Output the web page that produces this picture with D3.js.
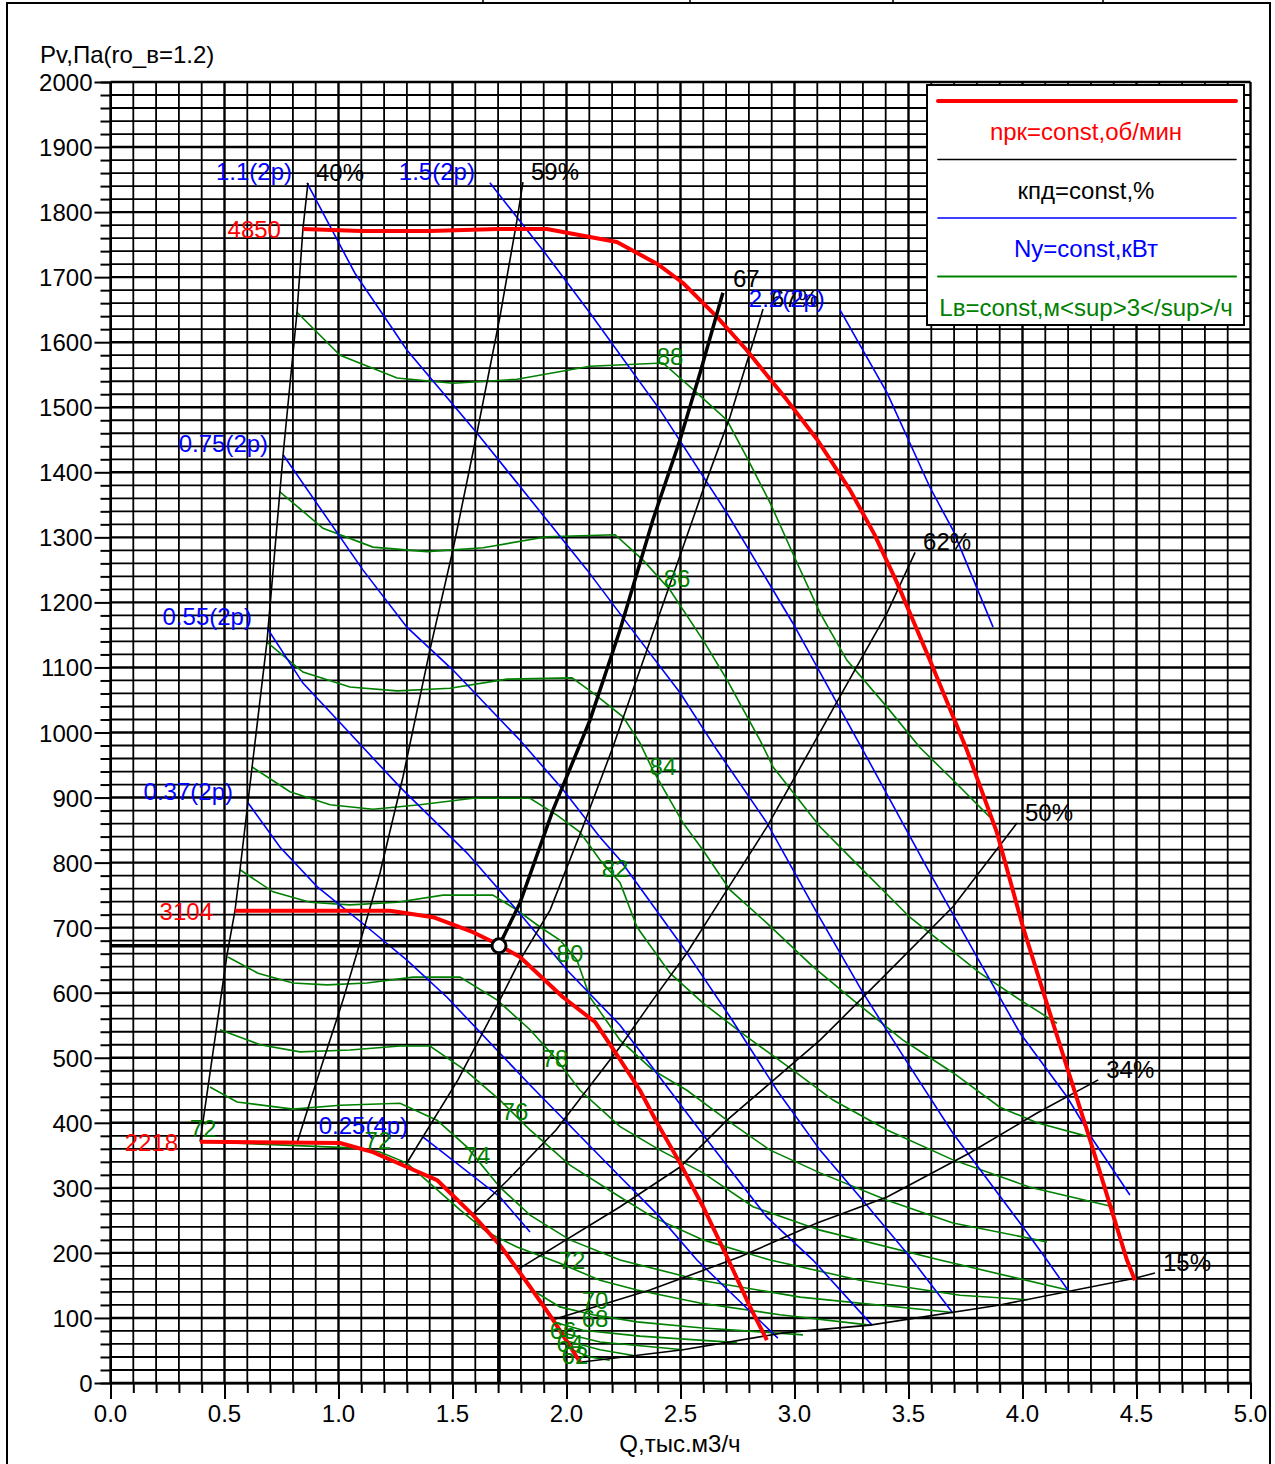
<!DOCTYPE html>
<html>
<head>
<meta charset="utf-8">
<script src="https://cdn.jsdelivr.net/npm/d3@7"></script>
<style>
  body { margin: 0; background: #fff; }
  text { font-family: "Liberation Sans", Arial, sans-serif; }
</style>
</head>
<body>
<svg id="chart" width="1275" height="1464"></svg>
<script>
// ---- axes ----
const qTicks = [0, 0.5, 1, 1.5, 2, 2.5, 3, 3.5, 4, 4.5, 5];
const pTicks = [0, 100, 200, 300, 400, 500, 600, 700, 800, 900, 1000, 1100, 1200, 1300, 1400, 1500, 1600, 1700, 1800, 1900, 2000];
const qLabel = "Q,тыс.м3/ч";
const pLabel = "Pv,Па(ro_в=1.2)";

// ---- fan speed curves, rpm (Q thousand m3/h, Pv Pa) ----
const speedNames = ["4850", "3104", "2218"];
const speed4850 = [[0.844,1774],[1.10,1771],[1.40,1771],[1.70,1774],[1.914,1774],[2.221,1754],[2.40,1720],[2.511,1691],[2.66,1639],[2.79,1588],[2.967,1511],[3.10,1450],[3.243,1373],[3.35,1305],[3.45,1230],[3.594,1111],[3.756,973],[3.888,846],[4.002,701],[4.134,553],[4.296,374],[4.458,189],[4.493,158]];
const speed3104 = [[0.546,726],[1.226,726],[1.415,716],[1.590,693],[1.678,678],[1.796,655],[1.985,593],[2.125,555],[2.235,497],[2.322,450],[2.397,400],[2.498,338],[2.599,271],[2.704,194],[2.805,117],[2.879,66]];
const speed2218 = [[0.393,371],[1.007,369],[1.151,355],[1.300,332],[1.432,312],[1.590,258],[1.708,212],[1.840,148],[1.941,97],[1.998,66],[2.059,32]];

// ---- efficiency lines, % ----
const effNames = ["40%", "59%", "67%", "62%", "50%", "34%", "15%"];
const eff40 = [[0.393,371],[0.511,658],[0.546,726],[0.568,789],[0.621,947],[0.686,1139],[0.757,1427],[0.818,1646],[0.844,1774],[0.866,1845]];
const eff59 = [[0.818,369],[0.906,466],[1.020,589],[1.081,661],[1.182,784],[1.283,932],[1.401,1127],[1.502,1281],[1.607,1460],[1.708,1639],[1.783,1788],[1.809,1846]];
const eff67 = [[1.289,332],[1.524,466],[1.708,589],[1.796,650],[1.928,727],[2.072,855],[2.204,978],[2.322,1096],[2.599,1373],[2.717,1485],[2.835,1619],[2.862,1651]];
const eff62 = [[1.585,258],[1.743,312],[1.954,389],[2.235,517],[2.379,589],[2.528,661],[2.704,758],[2.879,855],[3.068,973],[3.199,1055],[3.406,1184],[3.529,1277]];
const eff50 = [[1.783,174],[2.235,271],[2.498,332],[2.704,404],[2.893,461],[3.112,527],[3.406,630],[3.695,732],[3.976,861]];
const eff34 = [[1.936,97],[2.366,143],[2.761,194],[3.099,246],[3.406,286],[3.770,354],[4.064,415],[4.332,466]];
const eff15 = [[2.059,32],[2.511,51],[2.950,77],[3.331,89],[3.901,120],[4.493,161],[4.581,169]];

// ---- system line through the duty point ----
const dutyName = "67";
const dutyPoint = [1.704, 672];
const dutyLine = [[1.704,672],[1.796,738],[1.941,881],[2.103,1019],[2.235,1158],[2.379,1327],[2.498,1450],[2.586,1553],[2.686,1676]];

// ---- shaft power lines, kW ----
const powerNames = ["1.1(2p)", "1.5(2p)", "2.2(2p)", "0.75(2p)", "0.55(2p)", "0.37(2p)", "0.25(4p)"];
const power110 = [[0.862,1845],[1.072,1706],[1.300,1588],[1.608,1460],[2.090,1250],[2.322,1142],[2.498,1061],[2.660,973],[2.879,861],[3.098,723],[3.300,600],[3.507,486],[3.695,384],[3.989,246],[4.107,189],[4.199,143]];
const power150 = [[1.664,1845],[1.906,1737],[2.103,1645],[2.410,1496],[2.704,1337],[2.993,1168],[3.300,973],[3.594,784],[3.800,655],[3.989,538],[4.195,440],[4.309,374],[4.471,289]];
const power220 = [[3.199,1650],[3.406,1522],[3.594,1377],[3.695,1311],[3.871,1162]];
const power075 = [[0.757,1427],[1.107,1250],[1.300,1162],[1.502,1096],[1.796,988],[1.985,912],[2.147,839],[2.235,804],[2.511,670],[2.717,563],[2.923,450],[3.112,358],[3.287,286],[3.506,194],[3.691,109]];
const power055 = [[0.686,1161],[0.844,1076],[1.007,1015],[1.270,916],[1.563,815],[1.782,727],[2.002,635],[2.235,550],[2.353,496],[2.616,374],[2.879,255],[3.081,189],[3.340,89]];
const power037 = [[0.603,892],[0.743,824],[0.906,763],[1.125,701],[1.300,650],[1.476,593],[1.840,458],[2.235,317],[2.410,255],[2.572,189],[2.927,69]];
const power025 = [[1.371,378],[1.708,286],[1.840,232]];

// ---- sound power level lines, dB ----
const sound88 = [[0.818,1646],[1.007,1580],[1.257,1545],[1.502,1537],[1.783,1543],[2.103,1563],[2.423,1568],[2.572,1522],[2.704,1480],[2.791,1423],[2.893,1353],[3.011,1261],[3.112,1184],[3.230,1111],[3.406,1039],[3.550,977],[3.695,927],[3.857,870]];
const sound86 = [[0.743,1370],[0.932,1314],[1.151,1285],[1.388,1278],[1.634,1284],[1.914,1301],[2.213,1304],[2.336,1265],[2.454,1219],[2.599,1142],[2.704,1081],[2.849,988],[2.906,947],[3.112,855],[3.287,793],[3.506,716],[3.814,630],[3.989,589],[4.151,553]];
const sound84 = [[0.686,1139],[0.844,1093],[1.050,1070],[1.257,1064],[1.489,1068],[1.739,1082],[2.024,1084],[2.116,1061],[2.248,1024],[2.322,984],[2.379,942],[2.511,861],[2.599,819],[2.717,758],[2.879,707],[3.081,640],[3.256,589],[3.476,527],[3.695,477],[3.901,424],[4.064,400],[4.296,378]];
const sound82 = [[0.621,947],[0.787,909],[0.963,889],[1.151,882],[1.357,889],[1.590,899],[1.840,899],[1.958,873],[2.059,847],[2.147,804],[2.235,769],[2.309,701],[2.454,630],[2.599,584],[2.791,532],[2.993,481],[3.169,435],[3.406,389],[3.695,343],[4.033,301],[4.397,271]];
const sound80 = [[0.568,789],[0.713,755],[0.875,739],[1.050,735],[1.257,739],[1.458,750],[1.677,750],[1.783,727],[1.884,701],[1.971,681],[2.046,650],[2.103,593],[2.235,527],[2.379,481],[2.528,450],[2.704,404],[2.893,358],[3.112,323],[3.406,281],[3.695,246],[4.107,217]];
const sound78 = [[0.515,655],[0.647,630],[0.800,615],[0.950,612],[1.125,615],[1.327,624],[1.533,624],[1.695,589],[1.840,543],[1.950,500],[2.059,450],[2.235,394],[2.410,358],[2.599,323],[2.818,271],[3.112,235],[3.638,189],[4.199,143]];
const sound76 = [[0.480,543],[0.656,520],[0.831,509],[1.050,512],[1.270,518],[1.401,518],[1.555,481],[1.708,435],[1.840,389],[2.015,335],[2.235,286],[2.379,255],[2.599,220],[2.893,189],[3.287,158],[3.726,135],[4.024,128]];
const sound74 = [[0.436,455],[0.555,432],[0.800,421],[1.007,427],[1.270,430],[1.432,404],[1.563,363],[1.708,301],[1.840,258],[2.015,220],[2.235,189],[2.586,158],[3.025,132],[3.704,108]];
const sound72 = [[0.393,371],[1.086,361],[1.182,355],[1.300,338],[1.401,307],[1.533,266],[1.651,232],[1.783,209],[1.971,184],[2.147,158],[2.309,143],[2.585,123],[2.936,105],[3.331,89]];
const sound70 = [[1.849,143],[1.971,117],[2.116,105],[2.309,94],[2.585,85],[3.037,74]];
const sound68 = [[1.941,94],[2.072,81],[2.322,72],[2.748,62]];
const sound66 = [[1.971,78],[2.147,63],[2.511,51]];
const sound64 = [[1.998,65],[2.147,51],[2.300,42]];
const sound62 = [[2.024,51],[2.103,40],[2.190,35]];
const soundLabels = [
  ["88", 2.454, 1579], ["86", 2.485, 1237], ["84", 2.423, 948], ["82", 2.213, 792],
  ["80", 2.015, 661], ["78", 1.950, 500], ["76", 1.774, 418], ["74", 1.607, 350],
  ["72", 0.406, 392], ["72", 1.173, 374], ["72", 2.024, 189], ["70", 2.125, 128],
  ["68", 2.125, 100], ["66", 1.985, 81], ["64", 2.015, 61], ["62", 2.037, 43]
];

const legendItems = ["nрк=const,об/мин", "кпд=const,%", "Ny=const,кВт", "Lв=const,м<sup>3</sup>/ч"];

// ---- drawing ----
const RED = "#ff0000", BLUE = "#0000ff", GREEN = "#008000", BLACK = "#000";
const FS = 24;
const svg = d3.select("#chart");
const x = d3.scaleLinear().domain([0, 5]).range([110.5, 1250.5]);
const y = d3.scaleLinear().domain([0, 2000]).range([1383, 82]);
const line = d3.line().x(d => x(d[0])).y(d => y(d[1]));

// page frame and table stubs above it
svg.append("rect").attr("x", 7).attr("y", 3).attr("width", 1263).attr("height", 1480)
  .attr("fill", "none").attr("stroke", BLACK).attr("stroke-width", 2);
[483, 690, 893, 1103].forEach(px => svg.append("line")
  .attr("x1", px).attr("x2", px).attr("y1", 0).attr("y2", 3).attr("stroke", BLACK).attr("stroke-width", 1.5));

// grid
const grid = svg.append("g");
const qMinor = d3.range(0, 51).map(i => i / 10);
const pMinor = d3.range(0, 101).map(i => i * 20);
grid.selectAll(".vg").data(qMinor).join("line")
  .attr("x1", d => x(d)).attr("x2", d => x(d)).attr("y1", y(2000)).attr("y2", y(0))
  .attr("stroke", BLACK).attr("stroke-width", (d, i) => i % 5 === 0 ? 2.4 : 1.8);
grid.selectAll(".hg").data(pMinor).join("line")
  .attr("x1", x(0)).attr("x2", x(5)).attr("y1", d => y(d)).attr("y2", d => y(d))
  .attr("stroke", BLACK).attr("stroke-width", (d, i) => i % 5 === 0 ? 2.4 : 1.8);

// axes
const xAxis = svg.append("g").attr("transform", `translate(0,${y(0)})`)
  .call(d3.axisBottom(x).tickValues(qMinor).tickSize(10).tickFormat(""));
xAxis.selectAll(".tick line").filter(d => qTicks.some(t => Math.abs(t - d) < 1e-6)).attr("y2", 16);
const yAxis = svg.append("g").attr("transform", `translate(${x(0)},0)`)
  .call(d3.axisLeft(y).tickValues(pMinor).tickSize(10).tickFormat(""));
yAxis.selectAll(".tick line").filter(d => d % 100 === 0).attr("x2", -16);
[xAxis, yAxis].forEach(a => {
  a.select(".domain").attr("stroke", BLACK).attr("stroke-width", 2);
  a.selectAll(".tick line").attr("stroke", BLACK).attr("stroke-width", 2);
});

svg.append("g").selectAll("text").data(qTicks).join("text")
  .attr("x", d => x(d)).attr("y", y(0) + 39).attr("text-anchor", "middle")
  .attr("font-size", FS).text(d => d.toFixed(1));
svg.append("g").selectAll("text").data(pTicks).join("text")
  .attr("x", x(0) - 18).attr("y", d => y(d) + 9).attr("text-anchor", "end")
  .attr("font-size", FS).text(d => d);
svg.append("text").attr("x", 40).attr("y", 63).attr("font-size", FS).text(pLabel);
svg.append("text").attr("x", 680).attr("y", 1452).attr("text-anchor", "middle").attr("font-size", FS).text(qLabel);

// sound level lines
const soundCurves = [sound88, sound86, sound84, sound82, sound80, sound78, sound76, sound74, sound72, sound70, sound68, sound66, sound64, sound62];
svg.append("g").selectAll("path").data(soundCurves).join("path")
  .attr("d", line).attr("fill", "none").attr("stroke", GREEN).attr("stroke-width", 1.6);

// power lines
const powerCurves = [power110, power150, power220, power075, power055, power037, power025];
svg.append("g").selectAll("path").data(powerCurves).join("path")
  .attr("d", line).attr("fill", "none").attr("stroke", BLUE).attr("stroke-width", 1.6);

// efficiency lines
const effCurves = [eff40, eff59, eff67, eff62, eff50, eff34, eff15];
svg.append("g").selectAll("path").data(effCurves).join("path")
  .attr("d", line).attr("fill", "none").attr("stroke", BLACK).attr("stroke-width", 1.6);

// speed curves
const speedCurves = [speed4850, speed3104, speed2218];
svg.append("g").selectAll("path").data(speedCurves).join("path")
  .attr("d", line).attr("fill", "none").attr("stroke", RED).attr("stroke-width", 4).attr("stroke-linejoin", "round");

// duty line and duty point
svg.append("path").attr("d", line(dutyLine)).attr("fill", "none").attr("stroke", BLACK).attr("stroke-width", 3.5);
svg.append("path").attr("d", line([[0, dutyPoint[1]], dutyPoint, [dutyPoint[0], 0]]))
  .attr("fill", "none").attr("stroke", BLACK).attr("stroke-width", 3.5);
svg.append("circle").attr("cx", x(dutyPoint[0])).attr("cy", y(dutyPoint[1])).attr("r", 7)
  .attr("fill", "#fff").attr("stroke", BLACK).attr("stroke-width", 3);

// labels
const last = a => a[a.length - 1];
const lbl = svg.append("g").attr("font-size", FS);
speedCurves.forEach((c, i) => lbl.append("text").attr("x", x(c[0][0]) - 22).attr("y", y(c[0][1]) + 9)
  .attr("text-anchor", "end").attr("fill", RED).text(speedNames[i]));
effCurves.forEach((c, i) => lbl.append("text").attr("x", x(last(c)[0]) + 8).attr("y", y(last(c)[1]) - 2)
  .attr("fill", BLACK).text(effNames[i]));
lbl.append("text").attr("x", x(last(dutyLine)[0]) + 10).attr("y", y(last(dutyLine)[1]) - 6)
  .attr("fill", BLACK).text(dutyName);
powerCurves.forEach((c, i) => lbl.append("text").attr("x", x(c[0][0]) - 15).attr("y", y(c[0][1]) - 3)
  .attr("text-anchor", "end").attr("fill", BLUE).text(powerNames[i]));
soundLabels.forEach(([t, q, p]) => lbl.append("text").attr("x", x(q)).attr("y", y(p) + 9)
  .attr("text-anchor", "middle").attr("fill", GREEN).text(t));

// legend
const lg = svg.append("g");
lg.append("rect").attr("x", 927).attr("y", 85).attr("width", 317).attr("height", 240)
  .attr("fill", "#fff").attr("stroke", BLACK).attr("stroke-width", 2);
const legendColors = [RED, BLACK, BLUE, GREEN];
const legendWidths = [4, 1.6, 1.6, 2];
legendItems.forEach((t, i) => {
  const top = 101 + i * 58.5;
  lg.append("line").attr("x1", 938).attr("x2", 1236).attr("y1", top).attr("y2", top)
    .attr("stroke", legendColors[i]).attr("stroke-width", legendWidths[i]).attr("stroke-linecap", "round");
  lg.append("text").attr("x", 1086).attr("y", top + 39).attr("text-anchor", "middle")
    .attr("font-size", FS).attr("fill", legendColors[i]).text(t);
});
</script>
</body>
</html>
